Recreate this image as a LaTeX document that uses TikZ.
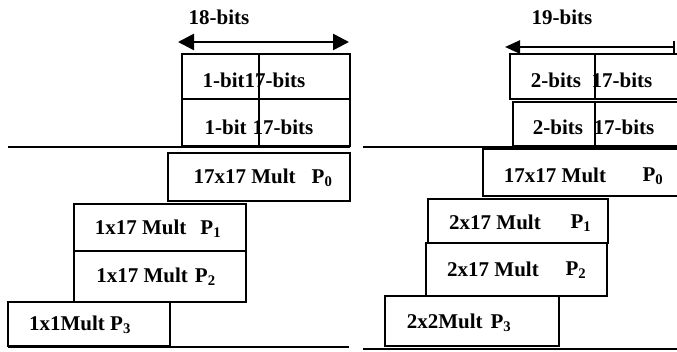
\documentclass[tikz,border=0pt]{standalone}
\usepackage{fontspec}
\setmainfont{Liberation Serif}
\usetikzlibrary{arrows.meta}
\tikzset{
  blk/.style={draw=black, line width=2.5pt, rectangle, inner sep=0pt, outer sep=0pt, anchor=north west},
  txt/.style={font=\fontsize{21}{25}\selectfont\bfseries, inner sep=0pt, anchor=center},
  sep/.style={line width=2.5pt},
  div/.style={line width=2pt},
  arr/.style={line width=2.5pt}
}
\newcommand{\bx}[6]{\node[blk, minimum width=#4-#2, minimum height=#5-#3] (#1) at (#2,#3) {};}
\begin{document}
\begin{tikzpicture}[x=1pt,y=-1pt]
\useasboundingbox (0,0) rectangle (677,352);
% ---------------- left panel ----------------
\node[txt] (t18) at (219,17) {18-bits};
\coordinate (la) at (178,42);
\coordinate (lb) at (349,42);
\draw[arr, {Triangle[length=16pt,width=16pt]}-{Triangle[length=16pt,width=16pt]}] (la) -- (lb);
\bx{L1}{182}{54}{350}{99}{}
\bx{L2}{182}{99}{350}{146}{}
\draw[div] (L1.north -| 259,0) -- (L1.south -| 259,0);
\draw[div] (L2.north -| 259,0) -- (L2.south -| 259,0);
\node[txt] (tL1) at (254,80) {1-bit17-bits};
\node[txt] (tL2) at (259,127) {1-bit\hspace{6pt}17-bits};
\coordinate (ls1) at (8,147);
\coordinate (ls2) at (350,147);
\draw[sep] (ls1) -- (ls2);
\bx{LP0}{168}{153}{350}{201}{}
\node[txt] (tLP0) at (263,178) {17x17 Mult\hspace{16pt}P\textsubscript{0}};
\bx{LP1}{74}{204}{246}{251}{}
\node[txt] (tLP1) at (158,229) {1x17 Mult\hspace{14pt}P\textsubscript{1}};
\bx{LP2}{74}{251}{246}{302}{}
\node[txt] (tLP2) at (156,277) {1x17 Mult\hspace{7pt}P\textsubscript{2}};
\bx{LP3}{8}{302}{170}{346}{}
\node[txt] (tLP3) at (80,325) {1x1Mult P\textsubscript{3}};
\coordinate (lb1) at (8,347);
\coordinate (lb2) at (349,347);
\draw[sep] (lb1) -- (lb2);
% ---------------- right panel ----------------
\node[txt] (t19) at (562,17) {19-bits};
\coordinate (ra) at (505,47);
\coordinate (rb) at (675,47);
\draw[arr, {Triangle[length=15pt,width=13pt]}-{Bar[width=12pt,line width=2.5pt]}] (ra) -- (rb);
\bx{R1}{510}{54}{680}{99}{}
\bx{R2}{513}{102}{680}{146}{}
\draw[div] (R1.north -| 595,0) -- (R1.south -| 595,0);
\draw[div] (R2.north -| 595,0) -- (R2.south -| 595,0);
\node[txt] (tR1a) at (556,80) {2-bits};
\node[txt] (tR1b) at (622,80) {17-bits};
\node[txt] (tR2a) at (558,127) {2-bits};
\node[txt] (tR2b) at (624,127) {17-bits};
\coordinate (rs1) at (363,147);
\coordinate (rs2) at (677,147);
\draw[sep] (rs1) -- (rs2);
\bx{RP0}{483}{149}{680}{196}{}
\node[txt] (tRP0a) at (555,175) {17x17 Mult};
\node[txt] (tRP0b) at (653,176) {P\textsubscript{0}};
\bx{RP1}{428}{199}{608}{243}{}
\node[txt] (tRP1a) at (495,222) {2x17 Mult};
\node[txt] (tRP1b) at (581,223) {P\textsubscript{1}};
\bx{RP2}{426}{243}{607}{296}{}
\node[txt] (tRP2a) at (493,269) {2x17 Mult};
\node[txt] (tRP2b) at (576,270) {P\textsubscript{2}};
\bx{RP3}{385}{296}{559}{346}{}
\node[txt] (tRP3) at (459,323) {2x2Mult\hspace{8pt}P\textsubscript{3}};
\coordinate (rb1) at (363,349);
\coordinate (rb2) at (677,349);
\draw[sep] (rb1) -- (rb2);
\end{tikzpicture}
\end{document}
